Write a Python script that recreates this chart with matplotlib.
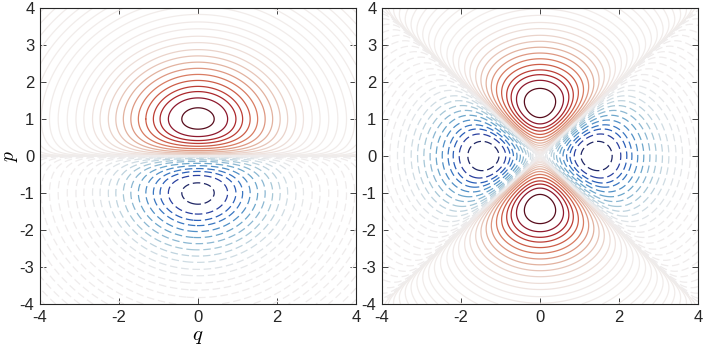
import numpy as np
import matplotlib
matplotlib.use("Agg")
import matplotlib.pyplot as plt
from matplotlib.colors import LinearSegmentedColormap

# grid limits and ticks
q_lim = (-4, 4)
p_lim = (-4, 4)
x_ticks = [-4, -2, 0, 2, 4]
y_ticks = [-4, -3, -2, -1, 0, 1, 2, 3, 4]

# left panel: single lobe pair, peak at (0, 1), trough at (0, -1)
left_peak_p = 1.0
# right panel: peaks at p = +-1.41, troughs at q = +-1.41
right_peak = 1.41
# contour levels relative to each panel's peak value
left_level_scale = 1.0
right_level_scale = 0.93

# contour radii (in "distance from peak" units),
# level = +-max * exp(-s^2 / 2)
level_s = [0.41, 0.75, 0.96, 1.13, 1.32, 1.51, 1.70, 1.89, 2.08, 2.27,
           2.48, 2.67, 2.89, 3.09, 3.31, 3.54, 3.76, 3.97, 4.18, 4.39,
           4.60, 4.81, 5.02, 5.23, 5.44, 5.65]

# approximation of a balance-type diverging map
cmap = LinearSegmentedColormap.from_list("balance", [
    (0.00, "#181c43"), (0.10, "#2a3596"), (0.20, "#2a66be"),
    (0.32, "#5c9cc8"), (0.42, "#a9c9d8"), (0.50, "#f1edec"),
    (0.58, "#e3b5a3"), (0.68, "#d66d50"), (0.80, "#b32b2a"),
    (0.90, "#84142e"), (1.00, "#3c0912")])

plt.rcParams["font.family"] = "Liberation Sans"
plt.rcParams["mathtext.fontset"] = "cm"
plt.rcParams["axes.unicode_minus"] = False

q = np.linspace(q_lim[0], q_lim[1], 601)
p = np.linspace(p_lim[0], p_lim[1], 601)
Q, P = np.meshgrid(q, p)
G = np.exp(-(Q**2 + P**2) / 2)
W_left = (P / left_peak_p) * G
W_right = (P**2 - Q**2) / right_peak**2 * G

fig = plt.figure(figsize=(7.05, 3.52), dpi=100)
ax1 = fig.add_axes([40 / 705, 48 / 352, 316 / 705, 296 / 352])
ax2 = fig.add_axes([382 / 705, 48 / 352, 316 / 705, 296 / 352])

ratios = np.exp(-np.array(level_s) ** 2 / 2)

for ax, W, sc in [(ax1, W_left, left_level_scale),
                  (ax2, W_right, right_level_scale)]:
    m = np.abs(W).max() * sc
    pos = np.sort(m * ratios)
    neg = np.sort(-m * ratios)
    for lev, ls in [(pos, "solid"), (neg, (0, (6, 3)))]:
        cols = [cmap((v / m + 1) / 2) for v in lev]
        ax.contour(Q, P, W, levels=lev, colors=cols, linewidths=0.9,
                   linestyles=[ls])
    ax.set_xlim(q_lim)
    ax.set_ylim(p_lim)
    ax.set_xticks(x_ticks)
    ax.set_yticks(y_ticks)
    ax.tick_params(direction="in", top=True, right=True, length=4,
                   width=0.6, labelsize=12, colors="#262626", pad=4)
    for s in ax.spines.values():
        s.set_linewidth(0.8)
        s.set_color("#262626")
    ax.set_zorder(1)

ax1.set_xlabel("$q$", fontsize=15, labelpad=2)
ax1.set_ylabel("$p$", fontsize=14)
ax1.yaxis.set_label_coords(-0.062, 0.5)

fig.savefig("out.png", dpi=100)
